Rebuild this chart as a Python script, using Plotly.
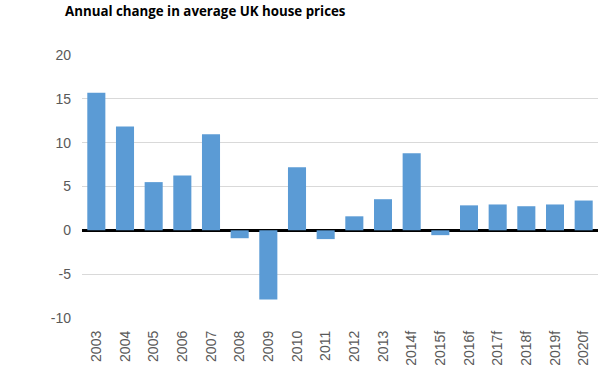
import plotly.graph_objects as go

categories = ["2003", "2004", "2005", "2006", "2007", "2008", "2009", "2010", "2011",
              "2012", "2013", "2014f", "2015f", "2016f", "2017f", "2018f", "2019f", "2020f"]
values = [15.7, 11.85, 5.5, 6.25, 10.95, -0.9, -7.9, 7.2, -1.0,
          1.6, 3.55, 8.8, -0.55, 2.85, 2.95, 2.75, 2.95, 3.4]
y_ticks = [-10, -5, 0, 5, 10, 15, 20]
y_tick_text = ["-10", "-5", "0", "5", "10", "15", "20"]

fig = go.Figure(go.Bar(x=categories, y=values, marker_color="#5B9BD5", marker_line_width=0))

fig.update_layout(
    width=613, height=377,
    margin=dict(l=82, r=15, t=55, b=59),
    paper_bgcolor="white", plot_bgcolor="white",
    bargap=0.37,
    showlegend=False,
    font=dict(family="Liberation Sans, Arial, sans-serif", color="#595959", size=13),
    title=dict(text="<b>Annual change in average UK house prices</b>",
               x=65/613, xanchor="left", xref="container",
               y=1-11/377, yanchor="middle", yref="container",
               font=dict(family="Open Sans, sans-serif", size=13.3, color="black")),
)
fig.update_yaxes(range=[-10, 20], tickvals=y_ticks, ticktext=y_tick_text, showgrid=True,
                 gridcolor="#D9D9D9", gridwidth=1, zeroline=True, zerolinecolor="black",
                 zerolinewidth=3, showline=False, ticklabelstandoff=10, tickfont=dict(size=14))
fig.update_xaxes(tickangle=-90, showline=False, showgrid=False, ticks="",
                 ticklabelstandoff=9, tickfont=dict(size=14))

fig.write_html("out.html", config={"displayModeBar": False},
               post_script="document.body.style.margin='0';")
